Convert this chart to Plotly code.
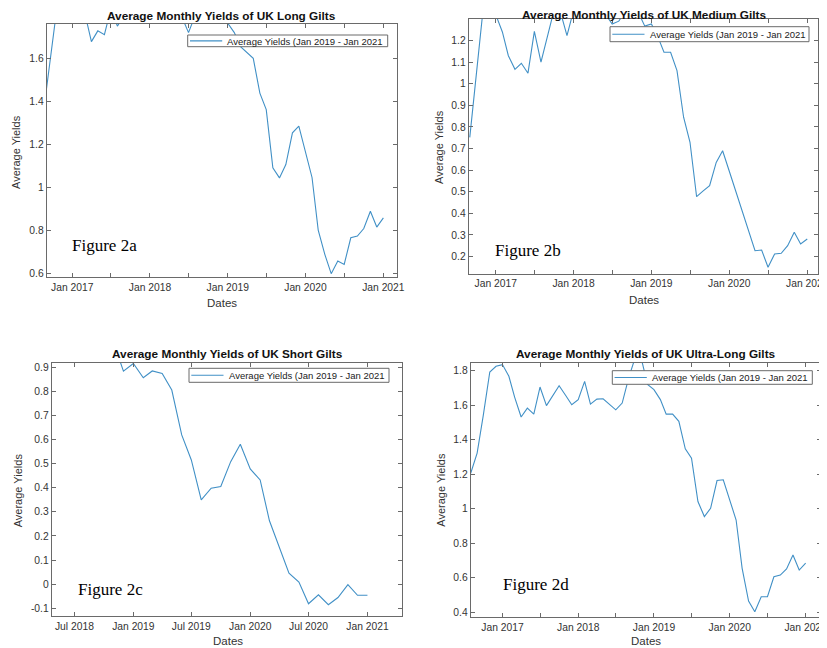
import pandas as pd
import plotly.graph_objects as go

# ---------------- data ----------------
dates_long = pd.date_range("2016-09-01", "2021-01-01", freq="MS").strftime("%Y-%m-%d").tolist()
long_gilts = [1.45, 1.70, 1.92, 1.95,
              1.90, 1.84, 1.81, 1.678, 1.728, 1.71, 1.83, 1.75, 1.80, 1.86, 1.82, 1.79,
              1.84, 1.92, 1.88, 1.82, 1.80, 1.79, 1.72, 1.80, 1.84, 1.90, 1.86, 1.80,
              1.764, 1.72, 1.656, 1.628, 1.60, 1.438, 1.361, 1.09, 1.043, 1.105, 1.253, 1.284,
              1.16, 1.045, 0.80, 0.687, 0.597, 0.656, 0.64, 0.764, 0.772, 0.807, 0.888, 0.814,
              0.857]

dates_medium = pd.date_range("2016-09-01", "2021-01-01", freq="MS").strftime("%Y-%m-%d").tolist()
medium_gilts = [0.752, 1.03, 1.33, 1.38,
                1.32, 1.24, 1.13, 1.067, 1.095, 1.049, 1.243, 1.10, 1.23, 1.34, 1.33, 1.223,
                1.34, 1.45, 1.42, 1.38, 1.34, 1.32, 1.277, 1.29, 1.34, 1.38, 1.33, 1.267,
                1.277, 1.216, 1.146, 1.146, 1.061, 0.845, 0.729, 0.477, 0.504, 0.528, 0.636, 0.69,
                0.596, 0.504, 0.412, 0.32, 0.227, 0.23, 0.15, 0.212, 0.215, 0.25, 0.312, 0.258,
                0.281]

dates_short = pd.date_range("2018-11-01", "2021-01-01", freq="MS").strftime("%Y-%m-%d").tolist()
short_gilts = [1.0, 0.883,
               0.915, 0.856, 0.884, 0.874, 0.805, 0.619, 0.515, 0.35, 0.398, 0.405, 0.508, 0.58,
               0.478, 0.432, 0.263, 0.157, 0.046, 0.009, -0.081, -0.044, -0.085, -0.055, -0.002, -0.046,
               -0.046]

dates_ultra = pd.date_range("2016-08-01", "2021-01-01", freq="MS").strftime("%Y-%m-%d").tolist()
ultra_gilts = [1.205, 1.322, 1.544, 1.792, 1.825,
               1.835, 1.767, 1.645, 1.531, 1.583, 1.548, 1.705, 1.597, 1.657, 1.713, 1.657, 1.602,
               1.632, 1.738, 1.606, 1.635, 1.637, 1.606, 1.573, 1.612, 1.757, 1.87, 1.87, 1.72,
               1.69, 1.632, 1.548, 1.548, 1.506, 1.347, 1.293, 1.041, 0.954, 1.002, 1.163, 1.167,
               1.056, 0.934, 0.654, 0.464, 0.402, 0.489, 0.489, 0.605, 0.615, 0.65, 0.731, 0.644,
               0.684]

titles = ["Average Monthly Yields of UK Long Gilts",
          "Average Monthly Yields of UK Medium Gilts",
          "Average Monthly Yields of UK Short Gilts",
          "Average Monthly Yields of UK Ultra-Long Gilts"]
fig_labels = ["Figure 2a", "Figure 2b", "Figure 2c", "Figure 2d"]
legend_name = "Average Yields (Jan 2019 - Jan 2021"

# x ticks
x_ticks_yearly = ["2017-01-01", "2017-07-01", "2018-01-01", "2018-07-01", "2019-01-01",
                  "2019-07-01", "2020-01-01", "2020-07-01", "2021-01-01"]
x_text_yearly = ["Jan 2017", "", "Jan 2018", "", "Jan 2019", "", "Jan 2020", "", "Jan 2021"]
x_ticks_short = ["2018-07-01", "2019-01-01", "2019-07-01", "2020-01-01", "2020-07-01", "2021-01-01"]
x_text_short = ["Jul 2018", "Jan 2019", "Jul 2019", "Jan 2020", "Jul 2020", "Jan 2021"]

# y ticks
y_ticks_long = [0.6, 0.8, 1.0, 1.2, 1.4, 1.6]
y_text_long = ["0.6", "0.8", "1", "1.2", "1.4", "1.6"]
y_ticks_medium = [0.2, 0.3, 0.4, 0.5, 0.6, 0.7, 0.8, 0.9, 1.0, 1.1, 1.2]
y_text_medium = ["0.2", "0.3", "0.4", "0.5", "0.6", "0.7", "0.8", "0.9", "1", "1.1", "1.2"]
y_ticks_short = [-0.1, 0.0, 0.1, 0.2, 0.3, 0.4, 0.5, 0.6, 0.7, 0.8, 0.9]
y_text_short = ["-0.1", "0", "0.1", "0.2", "0.3", "0.4", "0.5", "0.6", "0.7", "0.8", "0.9"]
y_ticks_ultra = [0.4, 0.6, 0.8, 1.0, 1.2, 1.4, 1.6, 1.8]
y_text_ultra = ["0.4", "0.6", "0.8", "1", "1.2", "1.4", "1.6", "1.8"]

# ---------------- style / layout ----------------
FONT = "Arial, 'Liberation Sans', sans-serif"
SERIF = "'Times New Roman', 'Liberation Serif', serif"
LINE = "#4190c6"
FRAME = "#6a6a6a"
TXT = "#333333"

# the page body has an 8px margin, so the figure is drawn 8px in from the window corner
OFF = 8
W, H = 827 - OFF, 648 - OFF


def px(p):
    return (p - OFF) / W


def py(p):
    return 1 - (p - OFF) / H


# panel boxes in window pixels: (left, right, top, bottom)
boxes = [(46.7, 397.0, 24.0, 277.3),
         (468.7, 817.7, 19.0, 274.0),
         (51.7, 401.7, 363.0, 616.3),
         (470.7, 821.0, 362.7, 617.3)]
x_ranges = [["2016-09-03", "2021-03-06"], ["2016-08-27", "2021-02-19"],
            ["2018-04-21", "2021-04-18"], ["2016-08-01", "2021-03-16"]]
y_ranges = [[0.58, 1.76], [0.119, 1.30], [-0.133, 0.917], [0.37, 1.846]]
xt = [(x_ticks_yearly, x_text_yearly), (x_ticks_yearly, x_text_yearly),
      (x_ticks_short, x_text_short), (x_ticks_yearly, x_text_yearly)]
yt = [(y_ticks_long, y_text_long), (y_ticks_medium, y_text_medium),
      (y_ticks_short, y_text_short), (y_ticks_ultra, y_text_ultra)]
series = [(dates_long, long_gilts), (dates_medium, medium_gilts),
          (dates_short, short_gilts), (dates_ultra, ultra_gilts)]
# legend boxes: (left, right, top, bottom) in window pixels
legend_boxes = [(187.7, 387.7, 35.0, 46.7),
                (610.0, 809.0, 26.7, 41.7),
                (189.0, 389.0, 368.3, 382.3),
                (612.3, 812.3, 370.7, 384.3)]
title_pos = [(221.9, 15.7), (643.8, 14.8), (227.0, 354.0), (646.0, 354.0)]
dates_lbl_pos = [(222.0, 303.3), (643.8, 300.0), (228.0, 641.0), (646.0, 641.0)]
ylbl_pos = [(16.0, 152.0), (439.0, 147.0), (18.3, 490.0), (440.7, 490.0)]
figlbl_pos = [(104.7, 246.0), (528.0, 251.0), (110.5, 589.0), (536.0, 584.0)]

fig = go.Figure()
layout = dict(width=W, height=H, margin=dict(l=0, r=0, t=0, b=0),
              template="none", paper_bgcolor="white", plot_bgcolor="white",
              showlegend=False, font=dict(family=FONT, color=TXT))
annotations = []
shapes = []

for i in range(4):
    k = "" if i == 0 else str(i + 1)
    l, r, t, b = boxes[i]
    xd, yd = series[i]
    fig.add_trace(go.Scatter(x=xd, y=yd, mode="lines", name=legend_name,
                             line=dict(color=LINE, width=1.1),
                             xaxis="x" + k, yaxis="y" + k))
    axis_common = dict(showline=True, linecolor=FRAME, linewidth=1, mirror="ticks",
                       ticks="inside", ticklen=4, tickcolor=FRAME, tickwidth=1,
                       showgrid=False, zeroline=False, automargin=False,
                       ticklabeloverflow="allow",
                       tickfont=dict(family=FONT, size=10.3, color=TXT))
    layout["xaxis" + k] = dict(axis_common, type="date", domain=[px(l), px(r)],
                               range=x_ranges[i], anchor="y" + k,
                               tickvals=xt[i][0], ticktext=xt[i][1])
    layout["yaxis" + k] = dict(axis_common, domain=[py(b), py(t)],
                               range=y_ranges[i], anchor="x" + k,
                               tickvals=yt[i][0], ticktext=yt[i][1])

    # legend (box, line sample, label)
    ll, lr, lt, lb = legend_boxes[i]
    lc = (lt + lb) / 2
    shapes.append(dict(type="rect", xref="paper", yref="paper",
                       x0=px(ll), x1=px(lr), y0=py(lb), y1=py(lt),
                       fillcolor="white", line=dict(color=FRAME, width=1), layer="above"))
    shapes.append(dict(type="line", xref="paper", yref="paper",
                       x0=px(ll + 2.3), x1=px(ll + 34.5), y0=py(lc), y1=py(lc),
                       line=dict(color=LINE, width=1.1), layer="above"))
    annotations.append(dict(text=legend_name, x=px(ll + 37.5), y=py(lc + 0.3),
                            xref="paper", yref="paper", xanchor="left", yanchor="middle",
                            showarrow=False,
                            font=dict(family=FONT, size=9.5, color="#222222")))

    tx, ty = title_pos[i]
    annotations.append(dict(text="<b>" + titles[i] + "</b>", x=px(tx), y=py(ty),
                            xref="paper", yref="paper", xanchor="center", yanchor="middle",
                            showarrow=False, font=dict(family=FONT, size=11.8, color="#111111")))
    dx, dy = dates_lbl_pos[i]
    annotations.append(dict(text="Dates", x=px(dx), y=py(dy), xref="paper", yref="paper",
                            xanchor="center", yanchor="middle", showarrow=False,
                            font=dict(family=FONT, size=11.5, color=TXT)))
    yx, yy = ylbl_pos[i]
    annotations.append(dict(text="Average Yields", x=px(yx), y=py(yy), xref="paper", yref="paper",
                            xanchor="center", yanchor="middle", showarrow=False, textangle=-90,
                            font=dict(family=FONT, size=11, color=TXT)))
    fx, fy = figlbl_pos[i]
    annotations.append(dict(text=fig_labels[i], x=px(fx), y=py(fy), xref="paper", yref="paper",
                            xanchor="center", yanchor="middle", showarrow=False,
                            font=dict(family=SERIF, size=17, color="#000000")))

layout["annotations"] = annotations
layout["shapes"] = shapes
fig.update_layout(**layout)
fig.write_html("out.html")
